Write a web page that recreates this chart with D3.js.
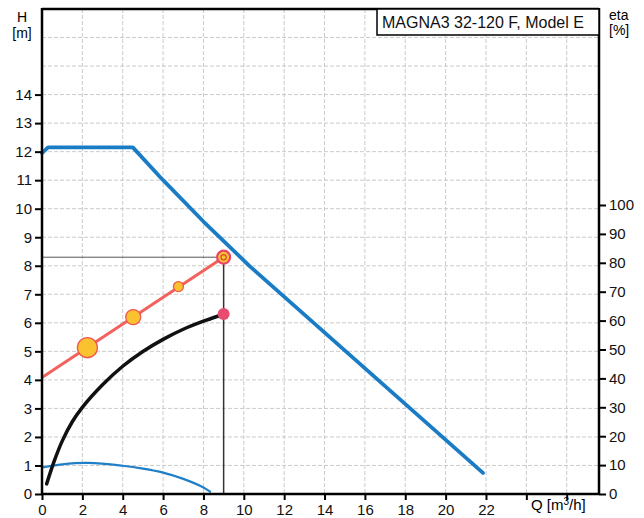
<!DOCTYPE html>
<html>
<head>
<meta charset="utf-8">
<script src="https://cdn.jsdelivr.net/npm/d3@7"></script>
<style>
  body { margin: 0; background: #fff; }
  text { font-family: "Liberation Sans", Arial, sans-serif; }
</style>
</head>
<body>
<svg id="pumpChart" width="644" height="518"></svg>
<script>

// ------------------------------------------------------------------//
//                       PUMP CURVE DATA
// ------------------------------------------------------------------//

var title = "MAGNA3 32-120 F, Model E";

// max curve H [m] vs Q [m3/h]
var maxQ = [0, 0.3, 4.5, 6, 8, 10.3, 21.85];
var maxH = [11.95, 12.15, 12.15, 11.0, 9.55, 7.98, 0.74];

// small blue curve (H units)
var lowQ = [0, 1, 2.3, 4, 5, 6, 7, 8, 8.33];
var lowH = [0.93, 1.04, 1.09, 0.99, 0.89, 0.75, 0.53, 0.23, 0.08];

// efficiency curve eta [%]
var etaQ = [0.23, 0.6, 1.0, 1.5, 2.0, 3.0, 4.0, 5.0, 6.0, 7.0, 8.0, 8.74];
var etaV = [3.5, 11.3, 18.3, 25, 30, 37.8, 44.2, 49.3, 53.5, 57, 59.8, 61.6];

// red duty line and its markers
var dutyQ = [0, 9];
var dutyH = [4.08, 8.3];
var markQ = [2.25, 4.52, 6.76];
var markH = [5.13, 6.2, 7.27];
var markR = [10, 7.5, 5];

// operating point
var opQ = 9, opH = 8.3, opEta = 62.3;

var hTicks = d3.range(0, 15);
var etaTicks = d3.range(0, 101, 10);
var qTicks = d3.range(0, 23, 2);
var qGrid = d3.range(2, 27, 2);
var hGrid = d3.range(1, 17);

// ------------------------------------------------------------------//
//                       SETUP
// ------------------------------------------------------------------//

var svg = d3.select("#pumpChart"),
    box = {left: 42, right: 599, top: 9, bottom: 494};

var x = d3.scaleLinear().domain([0, 27.6]).range([box.left, box.right]);
var y = d3.scaleLinear().domain([0, 17]).range([box.bottom, box.top]);
var yEta = d3.scaleLinear().domain([0, 100]).range([box.bottom, 205]);

function zip(a, b) {
    return a.map(function(d, i) { return [d, b[i]]; });
}

//grid
svg.append("g").selectAll("line")
    .data(qGrid).enter().append("line")
    .attr("x1", function(d) { return x(d); })
    .attr("x2", function(d) { return x(d); })
    .attr("y1", box.top).attr("y2", box.bottom)
    .attr("stroke", "#c4c4c4").attr("stroke-width", 0.9)
    .attr("stroke-dasharray", "4,2");

svg.append("g").selectAll("line")
    .data(hGrid).enter().append("line")
    .attr("y1", function(d) { return y(d); })
    .attr("y2", function(d) { return y(d); })
    .attr("x1", box.left).attr("x2", box.right)
    .attr("stroke", "#c4c4c4").attr("stroke-width", 0.9)
    .attr("stroke-dasharray", "4,2");

// ------------------------------------------------------------------//
//                       CURVES
// ------------------------------------------------------------------//

var lineH = d3.line()
    .x(function(d) { return x(d[0]); })
    .y(function(d) { return y(d[1]); });

var lineHSmooth = d3.line()
    .curve(d3.curveCatmullRom.alpha(0.5))
    .x(function(d) { return x(d[0]); })
    .y(function(d) { return y(d[1]); });

var lineEta = d3.line()
    .curve(d3.curveCatmullRom.alpha(0.5))
    .x(function(d) { return x(d[0]); })
    .y(function(d) { return yEta(d[1]); });

//guide lines to operating point
svg.append("line")
    .attr("x1", x(0)).attr("x2", x(opQ))
    .attr("y1", y(opH)).attr("y2", y(opH))
    .attr("stroke", "#555").attr("stroke-width", 1);

svg.append("line")
    .attr("x1", x(opQ)).attr("x2", x(opQ))
    .attr("y1", y(opH)).attr("y2", y(0))
    .attr("stroke", "#333").attr("stroke-width", 1.5);

svg.append("path")
    .datum(zip(lowQ, lowH))
    .attr("fill", "none")
    .attr("stroke", "#1f80c8")
    .attr("stroke-width", 2.2)
    .attr("stroke-linecap", "round")
    .attr("d", lineHSmooth);

svg.append("path")
    .datum(zip(etaQ, etaV))
    .attr("fill", "none")
    .attr("stroke", "#111")
    .attr("stroke-width", 3.5)
    .attr("stroke-linecap", "round")
    .attr("d", lineEta);

svg.append("path")
    .datum(zip(maxQ, maxH))
    .attr("fill", "none")
    .attr("stroke", "#1a7cc4")
    .attr("stroke-width", 3.8)
    .attr("stroke-linejoin", "round")
    .attr("stroke-linecap", "round")
    .attr("d", lineH);

svg.append("path")
    .datum(zip(dutyQ, dutyH))
    .attr("fill", "none")
    .attr("stroke", "#f2625c")
    .attr("stroke-width", 3)
    .attr("d", lineH);

//markers on duty line
svg.append("g").selectAll("circle")
    .data(zip(markQ, markH)).enter().append("circle")
    .attr("cx", function(d) { return x(d[0]); })
    .attr("cy", function(d) { return y(d[1]); })
    .attr("r", function(d, i) { return markR[i]; })
    .attr("fill", "#fbc230")
    .attr("stroke", "#f0584e")
    .attr("stroke-width", 1.3);

//operating point
svg.append("circle")
    .attr("cx", x(opQ)).attr("cy", y(opH)).attr("r", 6.5)
    .attr("fill", "#fbc230").attr("stroke", "#e8466a").attr("stroke-width", 2.2);
svg.append("circle")
    .attr("cx", x(opQ)).attr("cy", y(opH)).attr("r", 2.6)
    .attr("fill", "#fbc230").attr("stroke", "#d9433d").attr("stroke-width", 1.2);

svg.append("circle")
    .attr("cx", x(opQ)).attr("cy", yEta(opEta)).attr("r", 6)
    .attr("fill", "#e84a70");

// ------------------------------------------------------------------//
//                       AXES
// ------------------------------------------------------------------//

var axisLeft = d3.axisLeft(y).tickValues(hTicks).tickSize(7).tickPadding(3);
var gl = svg.append("g").attr("transform", "translate(" + box.left + ",0)").call(axisLeft);

var axisRight = d3.axisRight(yEta).tickValues(etaTicks).tickSize(7).tickPadding(3);
var gr = svg.append("g").attr("transform", "translate(" + box.right + ",0)").call(axisRight);

var axisBottom = d3.axisBottom(x).tickValues(qTicks.concat([24, 26])).tickSize(6).tickPadding(4)
    .tickFormat(function(d) { return d > 22 ? "" : d; });
var gb = svg.append("g").attr("transform", "translate(0," + box.bottom + ")").call(axisBottom);

[gl, gr, gb].forEach(function(g) {
    g.select(".domain").remove();
    g.selectAll(".tick line").attr("stroke", "#000").attr("stroke-width", 2);
    g.selectAll(".tick text").attr("fill", "#111").style("font-size", "15px");
});

//frame lines
svg.append("line").attr("x1", box.left).attr("x2", box.left).attr("y1", box.top - 1).attr("y2", box.bottom + 1)
    .attr("stroke", "#000").attr("stroke-width", 2.5);
svg.append("line").attr("x1", box.right).attr("x2", box.right).attr("y1", box.top - 1).attr("y2", box.bottom + 1)
    .attr("stroke", "#000").attr("stroke-width", 2.5);
svg.append("line").attr("x1", box.left).attr("x2", box.right).attr("y1", box.bottom).attr("y2", box.bottom)
    .attr("stroke", "#000").attr("stroke-width", 2.5);
svg.append("line").attr("x1", box.left).attr("x2", box.right).attr("y1", box.top).attr("y2", box.top)
    .attr("stroke", "#000").attr("stroke-width", 2.5);

//axis titles
svg.append("text").attr("x", 22).attr("y", 22).attr("text-anchor", "middle")
    .style("font-size", "14px").text("H");
svg.append("text").attr("x", 22).attr("y", 38).attr("text-anchor", "middle")
    .style("font-size", "14px").text("[m]");
svg.append("text").attr("x", 609).attr("y", 20)
    .style("font-size", "14px").text("eta");
svg.append("text").attr("x", 609).attr("y", 35)
    .style("font-size", "14px").text("[%]");

var qLabel = svg.append("text").attr("x", 531).attr("y", 510).style("font-size", "15px");
qLabel.append("tspan").text("Q [m");
qLabel.append("tspan").attr("dy", -5).style("font-size", "10px").text("3");
qLabel.append("tspan").attr("dy", 5).text("/h]");

//title box
svg.append("rect")
    .attr("x", 377).attr("y", box.top).attr("width", box.right - 377).attr("height", 26)
    .attr("fill", "#fff").attr("stroke", "#000").attr("stroke-width", 1.5);
svg.append("text").attr("x", 382).attr("y", 28)
    .style("font-size", "16px").attr("fill", "#111").text(title);

</script>
</body>
</html>
